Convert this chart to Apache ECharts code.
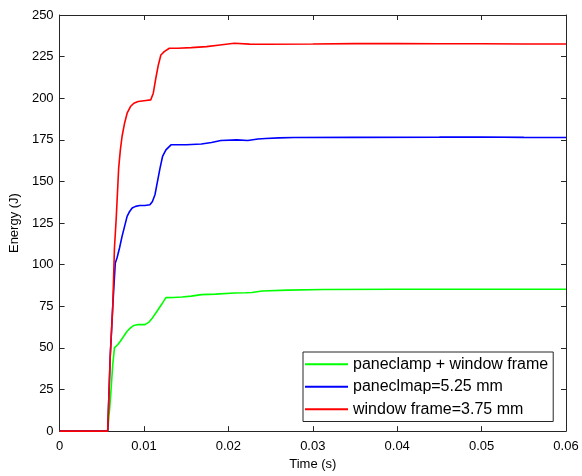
<!DOCTYPE html>
<html>
<head>
<meta charset="utf-8">
<script src="https://cdn.jsdelivr.net/npm/echarts@6/dist/echarts.min.js"></script>
<style>
  html, body { margin: 0; padding: 0; background: #fff; }
  #chart { width: 582px; height: 476px; }
</style>
</head>
<body>
<div id="chart"></div>
<script>
// Series names
const seriesNames = ['paneclamp + window frame', 'paneclmap=5.25 mm', 'window frame=3.75 mm'];

// Time samples (s) and energy (J) for each configuration
const tGreen = [0, 0.0057, 0.0060, 0.0063, 0.0065, 0.0069, 0.0072, 0.0076, 0.0080, 0.0084, 0.0088, 0.0093, 0.0101, 0.0106, 0.0110, 0.0114, 0.0118, 0.0122, 0.0126, 0.0135, 0.0145, 0.0156, 0.0168, 0.0185, 0.0207, 0.0220, 0.0228, 0.0240, 0.0270, 0.0313, 0.040, 0.050, 0.060];
const eGreen = [0, 0, 18, 40, 50, 52, 54, 57, 60, 62, 63.5, 64, 64, 65.5, 68, 71, 74, 77, 80.2, 80.3, 80.6, 81.1, 82, 82.3, 83, 83.1, 83.3, 84.2, 84.7, 85.1, 85.2, 85.2, 85.2];

const tBlue = [0, 0.0057, 0.0060, 0.0063, 0.0066, 0.0068, 0.0071, 0.0074, 0.0077, 0.0080, 0.0083, 0.0086, 0.0090, 0.0095, 0.0101, 0.0107, 0.0110, 0.0113, 0.0116, 0.0119, 0.0122, 0.0126, 0.0132, 0.0150, 0.0168, 0.0180, 0.0191, 0.0210, 0.0223, 0.0235, 0.0244, 0.0260, 0.0278, 0.035, 0.045, 0.050, 0.055, 0.060];
const eBlue = [0, 0, 45, 75, 101, 104, 110, 117, 123, 129, 132, 134, 135, 135.5, 135.5, 136, 138, 142, 150, 158, 165, 169, 172, 172, 172.5, 173.4, 174.6, 175, 174.6, 175.5, 175.8, 176.2, 176.4, 176.5, 176.6, 176.7, 176.5, 176.4];

const tRed = [0, 0.0057, 0.0060, 0.0063, 0.0065, 0.0067, 0.0070, 0.0072, 0.0074, 0.0077, 0.0080, 0.0084, 0.0088, 0.0093, 0.0100, 0.0108, 0.0111, 0.0114, 0.0117, 0.0120, 0.0124, 0.0130, 0.0140, 0.0156, 0.0174, 0.0190, 0.0207, 0.0225, 0.0246, 0.030, 0.035, 0.040, 0.045, 0.050, 0.055, 0.060];
const eRed = [0, 0, 45, 75, 110, 127, 158, 169, 177, 185, 191, 195, 197, 198, 198.5, 199, 203, 212, 220, 226, 228, 230, 230, 230.4, 231, 232, 233, 232.5, 232.4, 232.6, 232.8, 232.8, 232.7, 232.7, 232.6, 232.6];

// Axis tick labels
const xTickLabels = ['0', '0.01', '0.02', '0.03', '0.04', '0.05', '0.06'];
const yTickLabels = ['0', '25', '50', '75', '100', '125', '150', '175', '200', '225', '250'];

const colors = ['#00ff00', '#0000ff', '#ff0000'];
const font = 'Liberation Sans, Arial, Helvetica, sans-serif';
const ink = '#262626';

function pairs(ts, es) { return ts.map((t, i) => [t, es[i]]); }

const chart = echarts.init(document.getElementById('chart'), null, { renderer: 'canvas' });

const tickStyle = { show: true, inside: true, length: 5, lineStyle: { color: ink, width: 1 } };
const lineStyleAxis = { show: true, onZero: false, lineStyle: { color: ink, width: 1 } };

chart.setOption({
  animation: false,
  backgroundColor: '#fff',
  grid: { left: 58, right: 16, top: 15, bottom: 44, containLabel: false },
  legend: {
    orient: 'vertical',
    left: 303,
    top: 352,
    icon: 'rect',
    itemWidth: 43,
    itemHeight: 2,
    itemGap: 0,
    padding: [1, 5, 1, 2],
    borderColor: ink,
    borderWidth: 1,
    backgroundColor: '#fff',
    data: seriesNames,
    textStyle: { fontFamily: font, fontSize: 16, color: '#000', lineHeight: 22.5 }
  },
  xAxis: [
    {
      type: 'value', min: 0, max: 0.06, interval: 0.01, position: 'bottom',
      name: 'Time (s)', nameLocation: 'middle', nameGap: 25,
      nameTextStyle: { fontFamily: font, fontSize: 13, color: '#000' },
      axisLine: lineStyleAxis, axisTick: tickStyle,
      axisLabel: {
        margin: 9, fontFamily: font, fontSize: 13, color: '#000',
        formatter: (v) => xTickLabels[Math.round(v / 0.01)]
      },
      splitLine: { show: false }
    },
    {
      type: 'value', min: 0, max: 0.06, interval: 0.01, position: 'top',
      axisLine: lineStyleAxis, axisTick: tickStyle,
      axisLabel: { show: false }, splitLine: { show: false }
    }
  ],
  yAxis: [
    {
      type: 'value', min: 0, max: 250, interval: 25, position: 'left',
      name: 'Energy (J)', nameLocation: 'middle', nameGap: 29, nameRotate: 90,
      nameTextStyle: { fontFamily: font, fontSize: 13, color: '#000' },
      axisLine: lineStyleAxis, axisTick: tickStyle,
      axisLabel: {
        margin: 6, fontFamily: font, fontSize: 13, color: '#000',
        formatter: (v) => yTickLabels[Math.round(v / 25)]
      },
      splitLine: { show: false }
    },
    {
      type: 'value', min: 0, max: 250, interval: 25, position: 'right',
      axisLine: lineStyleAxis, axisTick: tickStyle,
      axisLabel: { show: false }, splitLine: { show: false }
    }
  ],
  series: [
    { name: seriesNames[0], type: 'line', data: pairs(tGreen, eGreen), showSymbol: false, color: colors[0], lineStyle: { width: 1.6, color: colors[0] } },
    { name: seriesNames[1], type: 'line', data: pairs(tBlue, eBlue), showSymbol: false, color: colors[1], lineStyle: { width: 1.6, color: colors[1] } },
    { name: seriesNames[2], type: 'line', data: pairs(tRed, eRed), showSymbol: false, color: colors[2], lineStyle: { width: 1.6, color: colors[2] } }
  ]
});
</script>
</body>
</html>
